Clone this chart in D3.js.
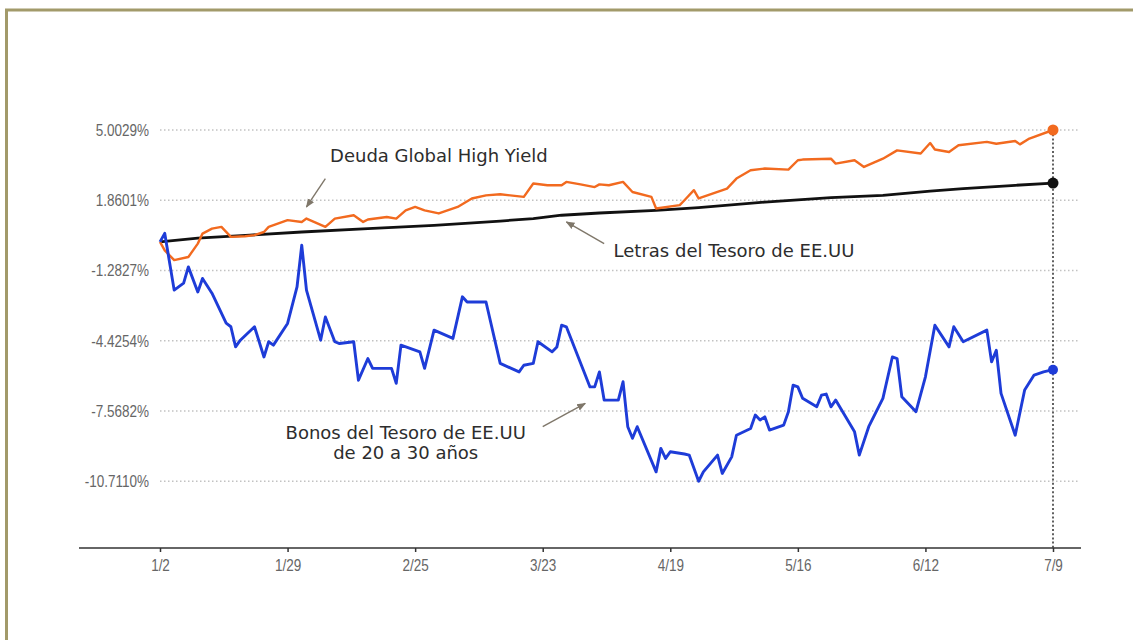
<!DOCTYPE html>
<html>
<head>
<meta charset="utf-8">
<script src="https://cdn.jsdelivr.net/npm/d3@7"></script>
<style>
  html, body { margin: 0; padding: 0; background: #fff; }
  svg { display: block; }
  .tick-text { font-family: "Liberation Sans", Arial, sans-serif; }
  .note { font-family: "DejaVu Sans", sans-serif; }
</style>
</head>
<body>
<svg id="chart" width="1133" height="640"></svg>
<script>
// Cumulative return, % since 1/2 — US Treasury 20-30y bonds
const bondDates = [
  "2024-01-02","2024-01-03","2024-01-05","2024-01-07","2024-01-08","2024-01-10","2024-01-11","2024-01-13",
  "2024-01-16","2024-01-17","2024-01-18","2024-01-19","2024-01-22","2024-01-24","2024-01-25","2024-01-26",
  "2024-01-29","2024-01-31","2024-02-01","2024-02-02","2024-02-05","2024-02-06","2024-02-08","2024-02-09",
  "2024-02-12","2024-02-13","2024-02-15","2024-02-16","2024-02-20","2024-02-21","2024-02-22","2024-02-26",
  "2024-02-27","2024-02-29","2024-03-04","2024-03-06","2024-03-07","2024-03-11","2024-03-14","2024-03-18",
  "2024-03-19","2024-03-21","2024-03-22","2024-03-25","2024-03-26","2024-03-27","2024-03-28","2024-04-02",
  "2024-04-03","2024-04-04","2024-04-05","2024-04-08","2024-04-09","2024-04-10","2024-04-11","2024-04-12",
  "2024-04-16","2024-04-17","2024-04-18","2024-04-19","2024-04-22","2024-04-23","2024-04-25","2024-04-26",
  "2024-04-29","2024-04-30","2024-05-02","2024-05-03","2024-05-06","2024-05-07","2024-05-08","2024-05-09",
  "2024-05-10","2024-05-13","2024-05-14","2024-05-15","2024-05-16","2024-05-17","2024-05-20","2024-05-21",
  "2024-05-22","2024-05-23","2024-05-24","2024-05-28","2024-05-29","2024-05-31","2024-06-03","2024-06-05",
  "2024-06-06","2024-06-07","2024-06-10","2024-06-12","2024-06-14","2024-06-17","2024-06-18","2024-06-20",
  "2024-06-25","2024-06-26","2024-06-27","2024-06-28","2024-07-01","2024-07-03","2024-07-05","2024-07-07",
  "2024-07-09"
];
const bondValues = [
  0.00, 0.38, -2.16, -1.85, -1.12, -2.24, -1.64, -2.30,
  -3.64, -3.80, -4.70, -4.40, -3.80, -5.15, -4.47, -4.62,
  -3.65, -2.02, -0.15, -2.16, -4.40, -3.36, -4.47, -4.55,
  -4.47, -6.19, -5.22, -5.66, -5.66, -6.33, -4.62, -4.92,
  -5.66, -3.95, -4.32, -2.46, -2.69, -2.69, -5.44, -5.82,
  -5.52, -5.44, -4.47, -4.92, -4.70, -3.73, -3.80, -6.49,
  -6.49, -5.82, -7.08, -7.08, -6.26, -8.27, -8.79, -8.27,
  -10.29, -9.24, -9.69, -9.39, -9.49, -9.54, -10.711, -10.29,
  -9.54, -10.36, -9.62, -8.65, -8.35, -7.75, -7.97, -7.83,
  -8.42, -8.20, -7.60, -6.41, -6.49, -7.00, -7.38, -6.86,
  -6.81, -7.38, -7.08, -8.50, -9.54, -8.27, -7.00, -5.15,
  -5.22, -6.93, -7.60, -6.04, -3.73, -4.70, -3.80, -4.47,
  -3.95, -5.37, -4.85, -6.78, -8.65, -6.63, -5.96, -5.82,
  -5.72
];

// Global high yield debt
const hyDates = [
  "2024-01-02","2024-01-03","2024-01-05","2024-01-08","2024-01-10","2024-01-11","2024-01-13","2024-01-15",
  "2024-01-17","2024-01-20","2024-01-22","2024-01-24","2024-01-25","2024-01-29","2024-02-01","2024-02-02",
  "2024-02-06","2024-02-08","2024-02-12","2024-02-14","2024-02-15","2024-02-19","2024-02-21","2024-02-23",
  "2024-02-25","2024-02-27","2024-03-01","2024-03-05","2024-03-08","2024-03-11","2024-03-14","2024-03-19",
  "2024-03-21","2024-03-24","2024-03-27","2024-03-28","2024-03-31","2024-04-03","2024-04-04","2024-04-06",
  "2024-04-09","2024-04-11","2024-04-15","2024-04-16","2024-04-21","2024-04-22","2024-04-24","2024-04-25",
  "2024-05-01","2024-05-03","2024-05-06","2024-05-09","2024-05-14","2024-05-16","2024-05-17","2024-05-23",
  "2024-05-24","2024-05-28","2024-05-30","2024-06-03","2024-06-06","2024-06-11","2024-06-13","2024-06-14",
  "2024-06-17","2024-06-19","2024-06-25","2024-06-27","2024-07-01","2024-07-02","2024-07-04","2024-07-09"
];
const hyValues = [
  0.00, -0.38, -0.82, -0.68, -0.08, 0.37, 0.59, 0.67,
  0.22, 0.25, 0.30, 0.44, 0.67, 0.97, 0.89, 1.04,
  0.67, 1.04, 1.19, 0.89, 1.00, 1.11, 1.04, 1.41,
  1.56, 1.41, 1.27, 1.56, 1.94, 2.08, 2.13, 2.01,
  2.61, 2.53, 2.53, 2.68, 2.57, 2.45, 2.57, 2.53,
  2.68, 2.23, 2.01, 1.49, 1.64, 1.86, 2.31, 1.94,
  2.38, 2.83, 3.20, 3.28, 3.23, 3.65, 3.68, 3.72,
  3.50, 3.65, 3.35, 3.72, 4.09, 3.95, 4.42, 4.13,
  4.02, 4.32, 4.47, 4.39, 4.51, 4.36, 4.62, 5.0029
];

// US Treasury bills
const billDates = [
  "2024-01-02","2024-01-10","2024-01-21","2024-02-01","2024-02-15","2024-02-29","2024-03-14","2024-03-21",
  "2024-03-27","2024-04-04","2024-04-16","2024-04-25","2024-05-09","2024-05-23","2024-06-03","2024-06-13",
  "2024-06-20","2024-07-01","2024-07-09"
];
const billValues = [
  0.00, 0.17, 0.30, 0.44, 0.59, 0.74, 0.93, 1.04,
  1.19, 1.29, 1.41, 1.53, 1.78, 1.98, 2.08, 2.27,
  2.38, 2.53, 2.63
];

// Axis ticks
const xTickDates = ["2024-01-02","2024-01-29","2024-02-25","2024-03-23","2024-04-19","2024-05-16","2024-06-12","2024-07-09"];
const xTickLabels = ["1/2","1/29","2/25","3/23","4/19","5/16","6/12","7/9"];
const yTickValues = [5.0029, 1.8601, -1.2827, -4.4254, -7.5682, -10.7110];
const yTickLabels = ["5.0029%","1.8601%","-1.2827%","-4.4254%","-7.5682%","-10.7110%"];

// Series labels with their arrow anchors (date, value)
const hyLabel   = { text: "Deuda Global High Yield", at: ["2024-02-07", 3.57], from: ["2024-02-06", 2.83], to: ["2024-02-02", 1.56] };
const billLabel = { text: "Letras del Tesoro de EE.UU", at: ["2024-04-07", -0.68], from: ["2024-04-05", -0.08], to: ["2024-03-28", 0.89] };
const bondLabel = { lines: ["Bonos del Tesoro de EE.UU", "de 20 a 30 años"], at: ["2024-02-23", -8.82], lineGap: -0.9,
                    from: ["2024-03-23", -8.27], to: ["2024-04-01", -7.23] };

const parse = d3.timeParse("%Y-%m-%d");
const svg = d3.select("#chart");

// Frame
svg.append("path")
  .attr("d", "M6.5,640 L6.5,10 L1133,10")
  .attr("fill", "none")
  .attr("stroke", "#a29a6a")
  .attr("stroke-width", 3);

const x = d3.scaleTime()
  .domain([parse("2024-01-02"), parse("2024-07-09")])
  .range([160, 1053]);
const yMax = d3.max(yTickValues), yMin = d3.min(yTickValues);
const y = d3.scaleLinear()
  .domain([yMin - 0.19 * (yMax - yMin), yMax])
  .range([548, 130]);

// Tick text is drawn slightly tall and narrow
const tickFont = 13.5, tickStretch = 1.25, tickColor = "#666";

// Horizontal dotted gridlines
svg.append("g").selectAll("line").data(yTickValues).join("line")
  .attr("x1", 160).attr("x2", 1080)
  .attr("y1", d => y(d)).attr("y2", d => y(d))
  .attr("stroke", "#c2c2c2").attr("stroke-width", 1.3)
  .attr("stroke-dasharray", "1.5,2.5");

// Y tick labels
svg.append("g").selectAll("text").data(yTickValues).join("text")
  .attr("class", "tick-text")
  .attr("transform", d => `translate(149,${y(d)}) scale(1,${tickStretch})`)
  .attr("dy", "0.35em")
  .attr("text-anchor", "end")
  .attr("fill", tickColor)
  .attr("font-size", tickFont)
  .text((d, i) => yTickLabels[i]);

// X axis
const xAxis = d3.axisBottom(x)
  .tickValues(xTickDates.map(parse))
  .tickFormat((d, i) => xTickLabels[i])
  .tickSize(4).tickPadding(0);
const gx = svg.append("g").attr("transform", "translate(0,548)").call(xAxis);
gx.attr("font-family", null);
gx.select(".domain").remove();
gx.selectAll(".tick line").attr("stroke", "#333").attr("stroke-width", 1.5);
gx.selectAll(".tick text")
  .attr("class", "tick-text")
  .attr("y", null).attr("dy", null)
  .attr("transform", `translate(0,22.5) scale(1,${tickStretch})`)
  .attr("fill", tickColor).attr("font-size", tickFont);
gx.append("line")
  .attr("x1", 79).attr("x2", 1081).attr("y1", 0).attr("y2", 0)
  .attr("stroke", "#333").attr("stroke-width", 1.6);

// Vertical dotted marker at the last date
const lastDate = parse(xTickDates[xTickDates.length - 1]);
svg.append("line")
  .attr("x1", x(lastDate)).attr("x2", x(lastDate))
  .attr("y1", y(yMax)).attr("y2", 548)
  .attr("stroke", "#3a3a3a").attr("stroke-width", 1.6)
  .attr("stroke-dasharray", "2,2.2");

const line = d3.line().x(d => x(d.date)).y(d => y(d.value));
const zip = (ds, vs) => ds.map((d, i) => ({ date: parse(d), value: vs[i] }));

const series = [
  { data: zip(billDates, billValues), color: "#111111", width: 2.8, r: 5.5 },
  { data: zip(hyDates, hyValues), color: "#f26a1f", width: 2.4, r: 5.5 },
  { data: zip(bondDates, bondValues), color: "#1e3cd8", width: 2.9, r: 5 }
];

series.forEach(s => {
  svg.append("path")
    .datum(s.data)
    .attr("fill", "none")
    .attr("stroke", s.color)
    .attr("stroke-width", s.width)
    .attr("stroke-linejoin", "round")
    .attr("d", line);
});
series.forEach(s => {
  const last = s.data[s.data.length - 1];
  svg.append("circle")
    .attr("cx", x(last.date)).attr("cy", y(last.value))
    .attr("r", s.r).attr("fill", s.color);
});

// Annotation arrows
const defs = svg.append("defs");
defs.append("marker")
  .attr("id", "arrowhead")
  .attr("viewBox", "0 0 10 10")
  .attr("refX", 9).attr("refY", 5)
  .attr("markerWidth", 9).attr("markerHeight", 9)
  .attr("markerUnits", "userSpaceOnUse")
  .attr("orient", "auto")
  .append("path")
  .attr("d", "M0,1 L10,5 L0,9 Z")
  .attr("fill", "#7f776a");

const pt = a => [x(parse(a[0])), y(a[1])];
[hyLabel, billLabel, bondLabel].forEach(l => {
  const [x1, y1] = pt(l.from), [x2, y2] = pt(l.to);
  svg.append("line")
    .attr("x1", x1).attr("y1", y1).attr("x2", x2).attr("y2", y2)
    .attr("stroke", "#7f776a").attr("stroke-width", 1.4)
    .attr("marker-end", "url(#arrowhead)");
});

const labelStyle = t => t.attr("class", "note").attr("fill", "#2d2d2d").attr("font-size", 18);
labelStyle(svg.append("text")
  .attr("x", pt(hyLabel.at)[0]).attr("y", pt(hyLabel.at)[1])
  .text(hyLabel.text));
labelStyle(svg.append("text")
  .attr("x", pt(billLabel.at)[0]).attr("y", pt(billLabel.at)[1])
  .text(billLabel.text));
bondLabel.lines.forEach((t, i) => {
  const [bx, by] = pt([bondLabel.at[0], bondLabel.at[1] + i * bondLabel.lineGap]);
  labelStyle(svg.append("text")
    .attr("x", bx).attr("y", by)
    .attr("text-anchor", "middle")
    .text(t));
});
</script>
</body>
</html>
